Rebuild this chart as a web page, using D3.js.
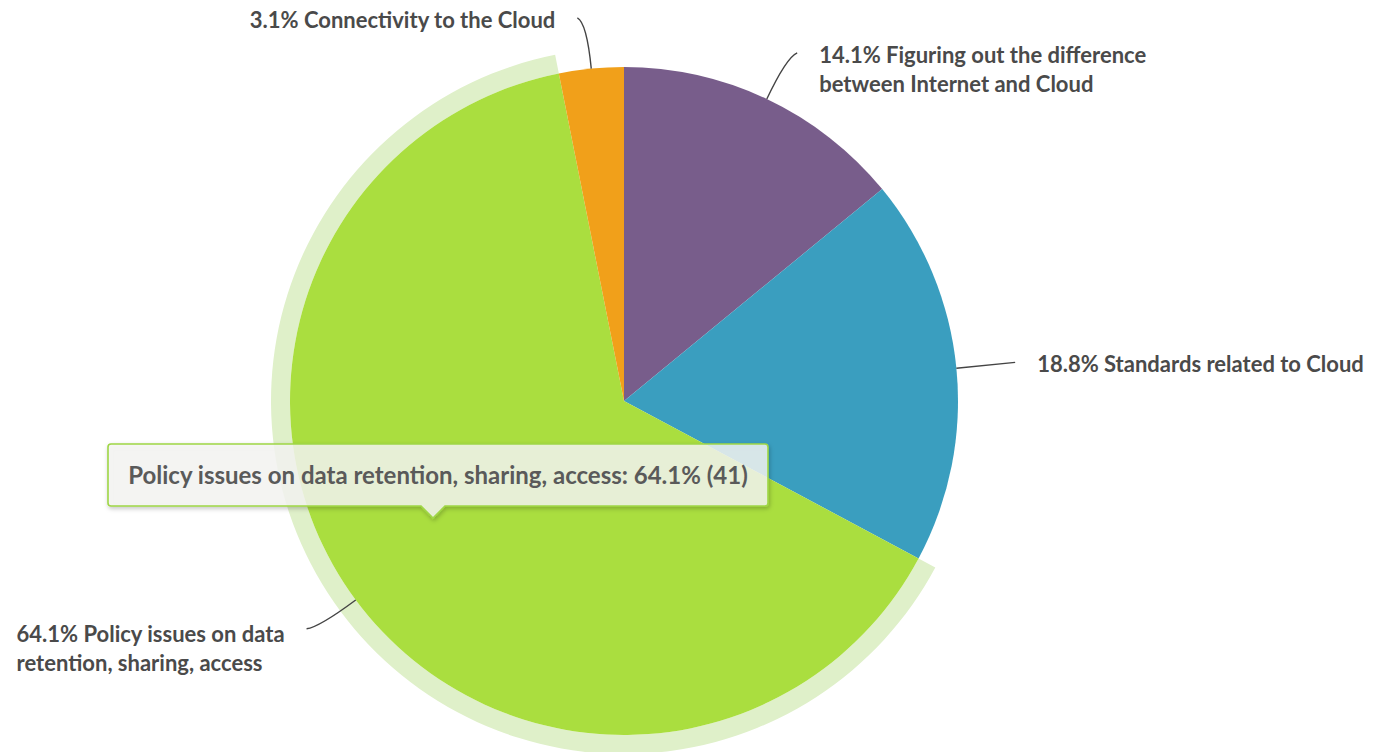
<!DOCTYPE html>
<html>
<head>
<meta charset="utf-8">
<script src="https://cdn.jsdelivr.net/npm/d3@7"></script>
<style>
  html, body { margin: 0; padding: 0; background: #fff; }
  svg { display: block; font-family: Lato, "Open Sans", sans-serif; }
</style>
</head>
<body>
<svg id="chart" width="1374" height="752"></svg>
<script>
// ---- data ----
const categories = [
  "Figuring out the difference between Internet and Cloud",
  "Standards related to Cloud",
  "Policy issues on data retention, sharing, access",
  "Connectivity to the Cloud"
];
const counts = [9, 12, 41, 2];
const colors = ["#785d8b", "#3a9ebf", "#aade3f", "#f1a01a"];
const labelLines = [
  ["Figuring out the difference", "between Internet and Cloud"],
  ["Standards related to Cloud"],
  ["Policy issues on data", "retention, sharing, access"],
  ["Connectivity to the Cloud"]
];
const hoveredIndex = 2;

// ---- layout ----
const W = 1374, H = 752;
const cx = 624, cy = 401, R = 334;
const svg = d3.select("#chart");

const total = d3.sum(counts);
const pct = v => (v / total * 100).toFixed(1) + "%";
const data = categories.map((c, i) => ({ name: c, value: counts[i], color: colors[i], lines: labelLines[i], i }));

const pie = d3.pie().value(d => d.value).sort(null).startAngle(0).endAngle(2 * Math.PI);
const arcs = pie(data);
const arc = d3.arc().innerRadius(0).outerRadius(R);
const halo = d3.arc().innerRadius(R).outerRadius(R + 19);

const g = svg.append("g").attr("transform", `translate(${cx},${cy})`);

// halo for hovered slice
g.append("path")
  .attr("d", halo(arcs[hoveredIndex]))
  .attr("fill", "#dff0c9");

g.selectAll("path.slice")
  .data(arcs)
  .join("path")
  .attr("class", "slice")
  .attr("d", arc)
  .attr("fill", d => d.data.color);

// radial helper
const radial = (a, r) => [r * Math.sin(a), -r * Math.cos(a)];

// labels + connectors
arcs.forEach(d => {
  const mid = (d.startAngle + d.endAngle) / 2;
  const right = Math.sin(mid) >= 0;
  const dir = right ? 1 : -1;
  const p = radial(mid, R);
  const ctrl = radial(mid, R + 46);
  const base = radial(mid, R + 50);
  const anchor = [base[0] + dir * 9, base[1] - 1];
  const path = d3.path();
  path.moveTo(anchor[0], anchor[1]);
  path.quadraticCurveTo(ctrl[0], ctrl[1], p[0], p[1]);
  g.append("path")
    .attr("d", path.toString())
    .attr("fill", "none")
    .attr("stroke", "#444")
    .attr("stroke-width", 1.4);

  const lines = d.data.lines.slice();
  lines[0] = pct(d.data.value) + " " + lines[0];
  const t = g.append("text")
    .attr("fill", "#4a4a4a")
    .attr("font-size", 22)
    .attr("font-weight", 700);
  lines.forEach((ln, k) => {
    t.append("tspan").attr("x", 0).attr("y", k * 29).text(ln);
  });
  const bb = t.node().getBBox();
  const gap = 22;
  const tx = right ? anchor[0] + gap : anchor[0] - gap - bb.width;
  const ty = anchor[1] + (d.data.lines.length > 1 && !right ? 13 : 10);
  t.attr("transform", `translate(${tx},${ty})`);
});

// tooltip
const tipText = categories[hoveredIndex] + ": " + pct(counts[hoveredIndex]) + " (" + counts[hoveredIndex] + ")";
const tip = svg.append("g");
const tipLeft = 108, tipTop = 444, tipW = 660, tipH = 62, arrowX = 433, arrowH = 12;
const defs = svg.append("defs");
const f = defs.append("filter").attr("id", "shadow").attr("x", "-10%").attr("y", "-30%").attr("width", "120%").attr("height", "160%");
f.append("feDropShadow").attr("dx", 1).attr("dy", 2).attr("stdDeviation", 2).attr("flood-color", "#000").attr("flood-opacity", 0.25);

const r = 3;
const tp = d3.path();
tp.moveTo(tipLeft + r, tipTop);
tp.lineTo(tipLeft + tipW - r, tipTop);
tp.arcTo(tipLeft + tipW, tipTop, tipLeft + tipW, tipTop + r, r);
tp.lineTo(tipLeft + tipW, tipTop + tipH - r);
tp.arcTo(tipLeft + tipW, tipTop + tipH, tipLeft + tipW - r, tipTop + tipH, r);
tp.lineTo(arrowX + 12, tipTop + tipH);
tp.lineTo(arrowX, tipTop + tipH + arrowH);
tp.lineTo(arrowX - 12, tipTop + tipH);
tp.lineTo(tipLeft + r, tipTop + tipH);
tp.arcTo(tipLeft, tipTop + tipH, tipLeft, tipTop + tipH - r, r);
tp.lineTo(tipLeft, tipTop + r);
tp.arcTo(tipLeft, tipTop, tipLeft + r, tipTop, r);
tp.closePath();

tip.append("path")
  .attr("d", tp.toString())
  .attr("fill", "rgba(247,247,244,0.82)")
  .attr("stroke", "#9fd646")
  .attr("stroke-width", 1.6)
  .attr("filter", "url(#shadow)");

tip.append("text")
  .attr("x", tipLeft + tipW / 2)
  .attr("y", tipTop + 40)
  .attr("text-anchor", "middle")
  .attr("fill", "#5a5a5a")
  .attr("font-size", 24)
  .attr("font-weight", 700)
  .text(tipText);
</script>
</body>
</html>
